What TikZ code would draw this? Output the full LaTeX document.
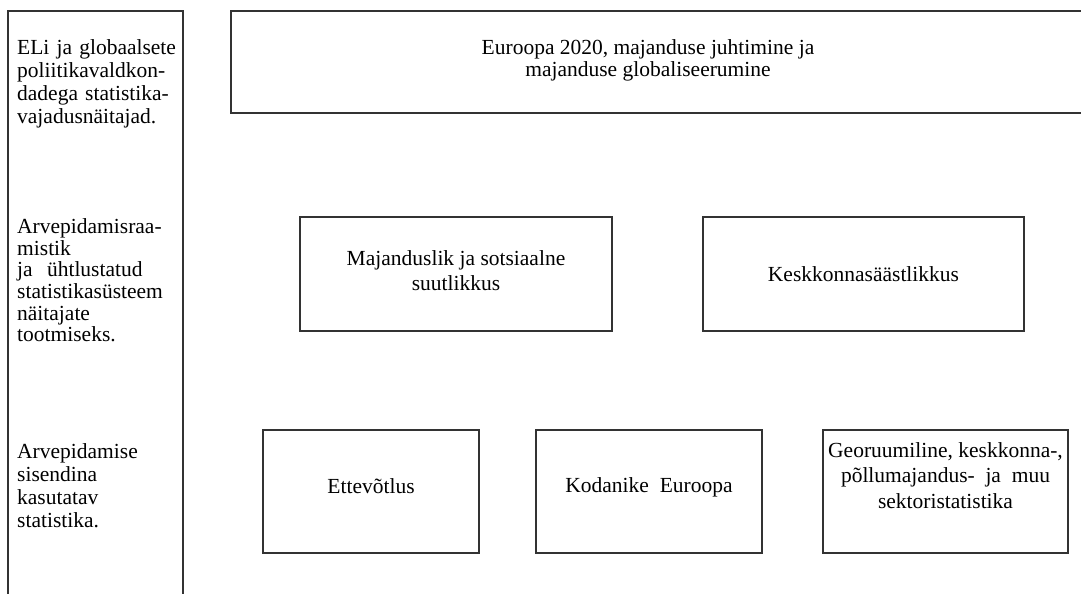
\documentclass[tikz,border=0pt]{standalone}
\usepackage{fontspec}
\setmainfont{Liberation Serif}
\newcommand{\leftfont}{\fontsize{21.5}{22}\selectfont}
\newcommand{\boxfont}{\fontsize{21.5}{25}\selectfont}
\begin{document}
\begin{tikzpicture}[x=1pt,y=-1pt,
  frame/.style={draw=black!80, line width=1.4pt, inner sep=0pt, fill=none},
  boxtext/.style={inner sep=0pt, align=center, font=\boxfont},
  lefttext/.style={inner sep=0pt, anchor=north west, text width=160pt, align=left, font=\leftfont},
]
\useasboundingbox (0,0) rectangle (1081,594);
\clip (0,0) rectangle (1081,594);
\fill[white] (0,0) rectangle (1081,594);

% left column frame (open at the bottom)
\node[frame, minimum width=175pt, minimum height=609pt] (left) at (95.5,315.5) {};
\node[lefttext, font=\fontsize{21.5}{23}\selectfont] (g1) at (17,39.3) {\makebox[157pt][s]{ELi ja globaalsete}\\
\makebox[156pt][s]{poliitikavaldkon-}\\
\makebox[157pt][s]{dadega statistika-}\\
vajadusnäitajad.};
\node[lefttext, font=\fontsize{21.5}{21.7}\selectfont] (g2) at (17,218.3) {Arvepidamisraa-\\mistik\\ja\ \ ühtlustatud\\statistikasüsteem\\näitajate\\tootmiseks.};
\node[lefttext, font=\fontsize{21.5}{23}\selectfont] (g3) at (17,443.3) {Arvepidamise\\sisendina\\kasutatav\\statistika.};

% top frame (extends past the right edge)
\node[frame, minimum width=869pt, minimum height=102pt] (top) at (665.5,62) {};
\node[boxtext, anchor=north, font=\fontsize{21.5}{22}\selectfont] (toptext) at (648,39.3) {Euroopa 2020, majanduse juhtimine ja\\majanduse globaliseerumine};

% middle row
\node[frame, minimum width=312pt, minimum height=114pt] (m1) at (456,274) {};
\node[boxtext] (m1t) at (456,271) {Majanduslik ja sotsiaalne\\suutlikkus};
\node[frame, boxtext, minimum width=321pt, minimum height=114pt] (m2) at (863.5,274) {Keskkonnasäästlikkus};

% bottom row
\node[frame, boxtext, text depth=10pt, minimum width=216pt, minimum height=123pt] (b1) at (371,491.5) {Ettevõtlus};
\node[frame, boxtext, text depth=12.5pt, minimum width=226pt, minimum height=123pt] (b2) at (649,491.5) {Kodanike\ \ Euroopa};
\node[frame, minimum width=245pt, minimum height=123pt] (b3) at (945.5,491.5) {};
\node[boxtext, anchor=north, font=\fontsize{21.5}{25.5}\selectfont] (b3t) at (945.5,442.3) {Georuumiline, keskkonna-,\\põllumajandus-\ \ ja\ \ muu\\sektoristatistika};
\end{tikzpicture}
\end{document}
